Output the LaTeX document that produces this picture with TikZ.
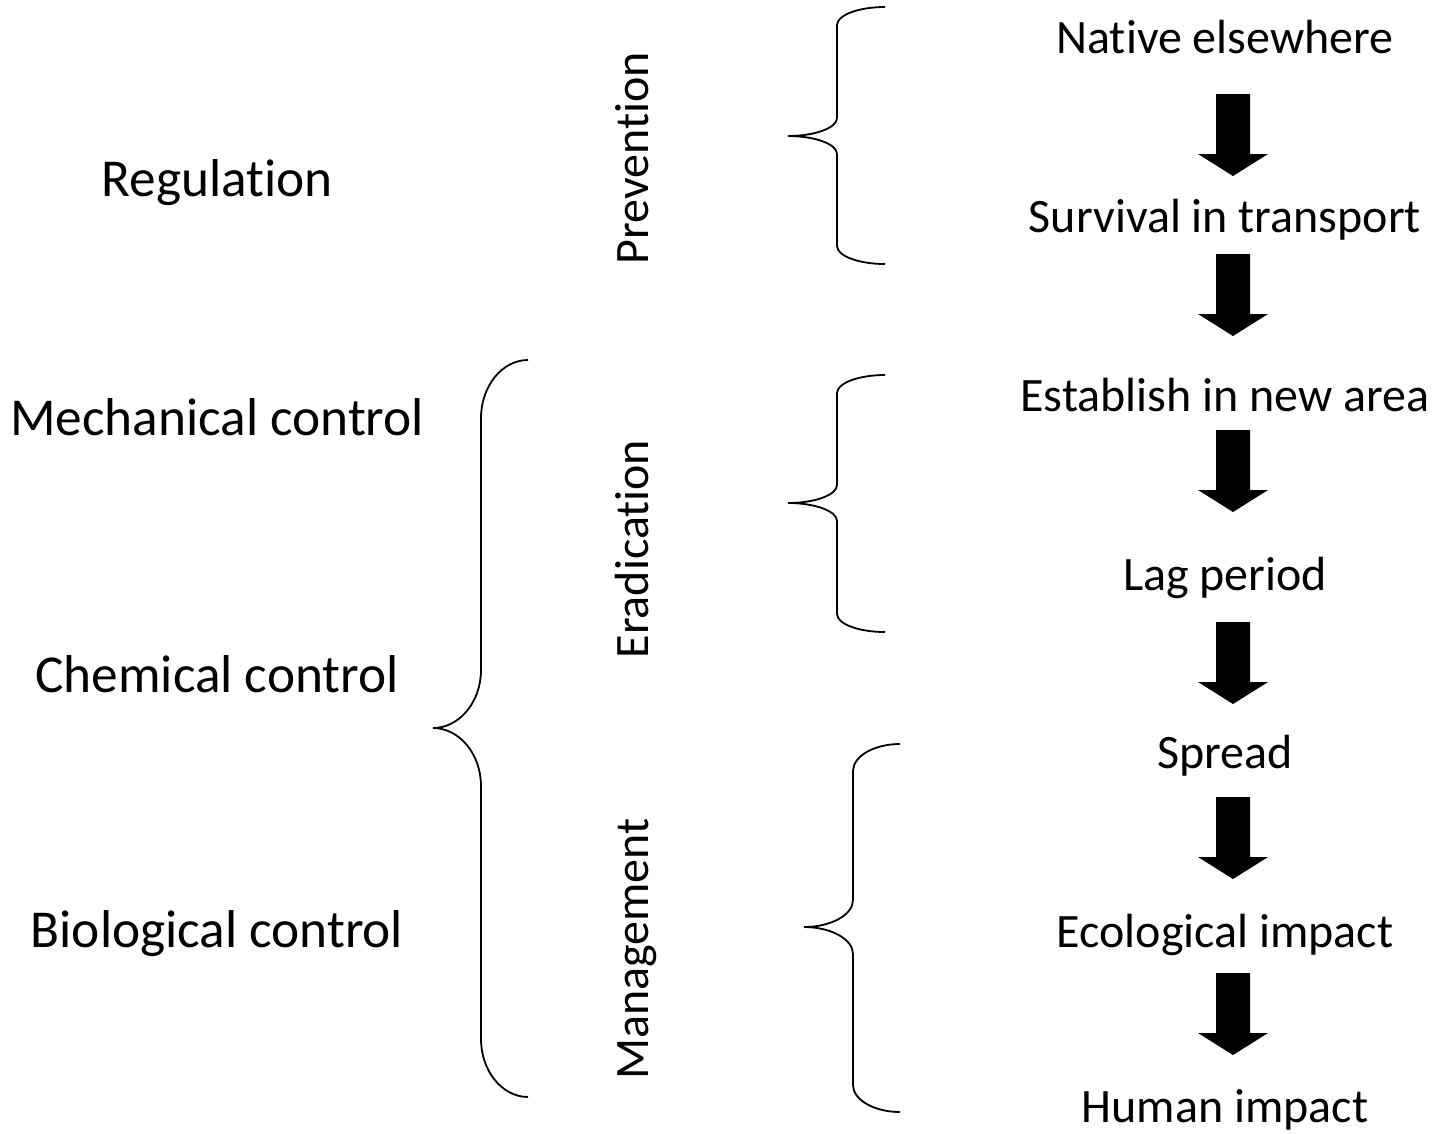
\documentclass[tikz,border=0pt]{standalone}
\usepackage{fontspec}
\setmainfont{Carlito}[RawFeature={-liga;-clig;-dlig;-rlig;-calt}]
\newcommand\curlyb[7]{%
  \draw[bracestyle] (#1,#4) .. controls ({#1-0.55*(#1-#2)},#4) and (#2,{#4+0.45*#7}) .. (#2,{#4+#7})
    -- (#2,{#5-#7}) .. controls (#2,{#5-0.45*#7}) and ({#2-0.45*(#2-#3)},#5) .. (#3,#5)
    .. controls ({#2-0.45*(#2-#3)},#5) and (#2,{#5+0.45*#7}) .. (#2,{#5+#7})
    -- (#2,{#6-#7}) .. controls (#2,{#6-0.45*#7}) and ({#1-0.55*(#1-#2)},#6) .. (#1,#6);}
\begin{document}
\begin{tikzpicture}[x=1pt,y=-1pt,
  bracestyle/.style={line width=1.8pt, black},
  lefttxt/.style={anchor=base, inner sep=0pt, font=\fontsize{53.3}{64}\selectfont},
  midtxt/.style={anchor=base, inner sep=0pt, rotate=90, font=\fontsize{48}{58}\selectfont},
  righttxt/.style={anchor=base, inner sep=0pt, font=\fontsize{48}{58}\selectfont},
  downarrow/.pic={\fill[black] (-17,0) -- (17,0) -- (17,60) -- (35,60) -- (0,82) -- (-35,60) -- (-17,60) -- cycle;}]
\useasboundingbox (0,0) rectangle (1434,1133);
% left column
\node[lefttxt] (reg) at (217,196) {Regulation};
\node[lefttxt] (mech) at (217,435) {Mechanical control};
\node[lefttxt] (chem) at (217,692) {Chemical control};
\node[lefttxt] (bio) at (217,947) {Biological control};
% middle column
\node[midtxt] (prev) at (648,158) {Prevention};
\node[midtxt] (erad) at (648,549) {Eradication};
\node[midtxt] (mgmt) at (648,949) {Management};
% right column
\node[righttxt] (s1) at (1225,53) {Native elsewhere};
\node[righttxt] (s2) at (1225,232) {Survival in transport};
\node[righttxt] (s3) at (1225,411) {Establish in new area};
\node[righttxt] (s4) at (1225,590) {Lag period};
\node[righttxt] (s5) at (1225,768) {Spread};
\node[righttxt] (s6) at (1225,947) {Ecological impact};
\node[righttxt] (s7) at (1225,1122) {Human impact};
% block arrows
\pic (a1) at (1233,94) {downarrow};
\pic (a2) at (1233,254) {downarrow};
\pic (a3) at (1233,430) {downarrow};
\pic (a4) at (1233,622) {downarrow};
\pic (a5) at (1233,797) {downarrow};
\pic (a6) at (1233,973) {downarrow};
% braces
\curlyb{885}{837}{788}{7}{136}{264}{18}
\curlyb{885}{837}{788}{375}{503}{632}{18}
\curlyb{900}{853}{804}{744}{927}{1112}{27}
\curlyb{528}{481}{433}{360}{728}{1097}{58}
\end{tikzpicture}
\end{document}
